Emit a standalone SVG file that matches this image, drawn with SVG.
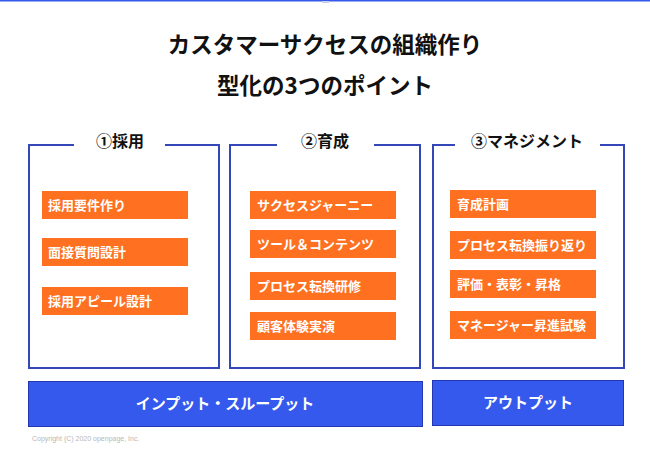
<svg xmlns="http://www.w3.org/2000/svg" width="650" height="450" viewBox="0 0 650 450">
<style>
text{font-family:"Noto Sans CJK JP","Noto Sans",sans-serif;}
.title{font-size:22.5px;font-weight:bold;fill:#111;text-anchor:middle;}
.frame{fill:none;stroke:#3447B8;stroke-width:2;}
.head{font-size:16px;font-weight:bold;fill:#111;text-anchor:middle;}
.item{fill:#FF7021;}
.itxt{font-size:13px;font-weight:bold;fill:#fff;}
.bar{fill:#3559EC;stroke:#2237B0;stroke-width:1;}
.btxt{font-size:15px;font-weight:bold;fill:#fff;text-anchor:middle;}
.copy{font-family:"Liberation Sans",Arial,sans-serif;font-size:7px;fill:#b8b8b8;}
</style>
<rect x="0" y="0" width="650" height="1.5" fill="#3559EC"/>
<rect x="322" y="1" width="7" height="2" fill="#c8cfe8"/>
<g id="title">
<text class="title" x="325" y="53">カスタマーサクセスの組織作り</text>
<text class="title" x="325" y="94">型化の3つのポイント</text>
</g>
<g id="connectors"></g>
<g id="box1">
<path class="frame" d="M74,145 H29 V368 H219 V145 H165"/>
<text class="head" x="120" y="147">①採用</text>
<rect class="item" x="42" y="191" width="146" height="28"/>
<text class="itxt" x="48" y="210">採用要件作り</text>
<rect class="item" x="42" y="238" width="146" height="28"/>
<text class="itxt" x="48" y="257">面接質問設計</text>
<rect class="item" x="42" y="287" width="146" height="28"/>
<text class="itxt" x="48" y="306">採用アピール設計</text>
</g>
<g id="box2">
<path class="frame" d="M277,145 H230 V368 H420 V145 H374"/>
<text class="head" x="325" y="147">②育成</text>
<rect class="item" x="250" y="191" width="146" height="28"/>
<text class="itxt" x="257" y="210">サクセスジャーニー</text>
<rect class="item" x="250" y="230" width="146" height="28"/>
<text class="itxt" x="257" y="249">ツール＆コンテンツ</text>
<rect class="item" x="250" y="272" width="146" height="28"/>
<text class="itxt" x="257" y="291">プロセス転換研修</text>
<rect class="item" x="250" y="312" width="146" height="28"/>
<text class="itxt" x="257" y="331">顧客体験実演</text>
</g>
<g id="box3">
<path class="frame" d="M455,145 H433 V368 H624 V145 H600"/>
<text class="head" x="527" y="147">③マネジメント</text>
<rect class="item" x="450" y="190" width="146" height="28"/>
<text class="itxt" x="457" y="209">育成計画</text>
<rect class="item" x="450" y="231" width="146" height="28"/>
<text class="itxt" x="457" y="250">プロセス転換振り返り</text>
<rect class="item" x="450" y="270" width="146" height="28"/>
<text class="itxt" x="457" y="289">評価・表彰・昇格</text>
<rect class="item" x="450" y="311" width="146" height="28"/>
<text class="itxt" x="457" y="330">マネージャー昇進試験</text>
</g>
<g id="input">
<rect class="bar" x="28.5" y="381.5" width="394" height="45"/>
<text class="btxt" x="225" y="409">インプット・スループット</text>
</g>
<g id="output">
<rect class="bar" x="432.5" y="380.5" width="191" height="45"/>
<text class="btxt" x="528" y="408">アウトプット</text>
</g>
<text class="copy" x="32" y="441">Copyright (C) 2020 openpage, Inc.</text>
</svg>
